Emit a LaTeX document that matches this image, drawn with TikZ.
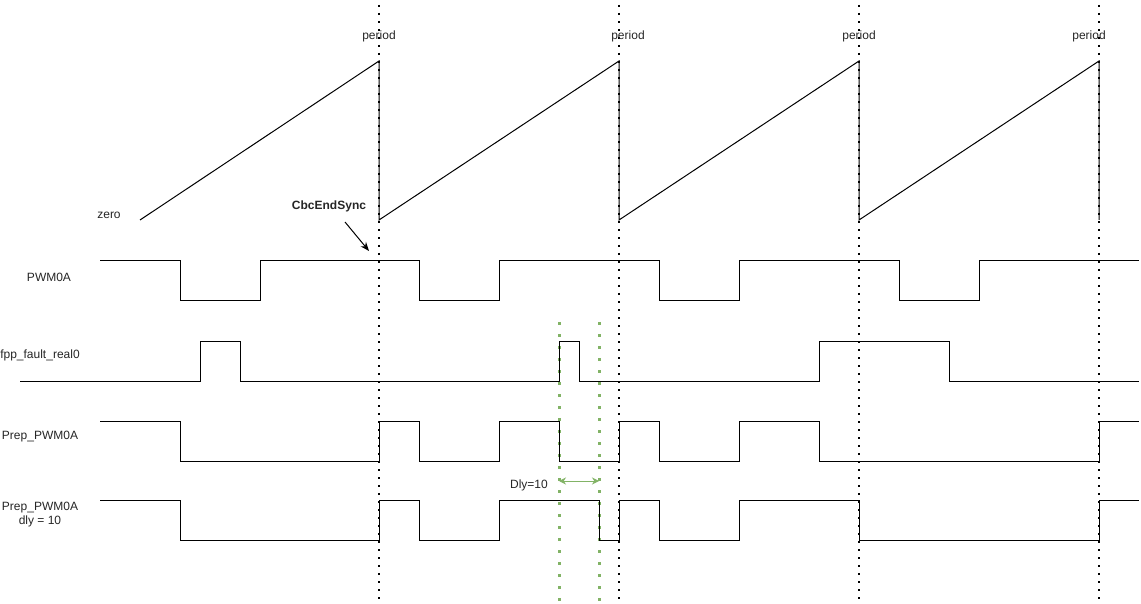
\documentclass[tikz,border=0pt]{standalone}
\usepackage{fontspec}
\setmainfont{Liberation Sans}
\usetikzlibrary{arrows.meta}
\definecolor{dlygreen}{HTML}{82B366}
\begin{document}
\begin{tikzpicture}[x=1pt,y=-1pt,
  wave/.style={draw=black, line width=1pt, line join=miter},
  blackdots/.style={draw=black, line width=2pt, dash pattern=on 2pt off 6pt},
  greendots/.style={draw=dlygreen, line width=3pt, dash pattern=on 3pt off 9pt},
  lbl/.style={font=\fontsize{12pt}{14pt}\selectfont, inner sep=0pt, align=center, text=black!85},
  boldlbl/.style={lbl, font=\fontsize{12pt}{14pt}\selectfont\bfseries}]
\useasboundingbox (0,0) rectangle (1141,604);
\fill[white] (0,0) rectangle (1141,604);

% period markers (dotted verticals)
\foreach \x in {379,619,859,1099}{
  \draw[blackdots] (\x,5) -- (\x,604);
}
% delay markers
\draw[greendots] (559,322) -- (559,604);
\draw[greendots] (599,322) -- (599,604);

% counter sawtooth
\draw[wave] (140,220) -- (379,61) -- (379,220) -- (619,61) -- (619,220)
  -- (859,61) -- (859,220) -- (1099,61) -- (1099,220);

% PWM0A
\draw[wave] (100,261) -| (180,300) -| (260,261) -| (419,300) -| (499,261)
  -| (659,300) -| (739,261) -| (899,300) -| (979,261) -- (1139,261);

% fpp_fault_real0
\draw[wave] (20,381) -| (200,341) -| (240,381) -| (559,341) -| (579,381)
  -| (819,341) -| (949,381) -- (1139,381);

% Prep_PWM0A
\draw[wave] (100,421) -| (180,461) -| (379,421) -| (419,461) -| (499,421)
  -| (559,461) -| (619,421) -| (659,461) -| (739,421) -| (819,461)
  -| (1099,421) -- (1139,421);

% Prep_PWM0A dly = 10
\draw[wave] (100,500) -| (180,540) -| (379,500) -| (419,540) -| (499,500)
  -| (599,540) -| (619,500) -| (659,540) -| (739,500) -| (859,540)
  -| (1099,500) -- (1139,500);

% texts
\node[lbl] (p1) at (379,36) {period};
\node[lbl] (p2) at (628,36) {period};
\node[lbl] (p3) at (859,36) {period};
\node[lbl] (p4) at (1089,36) {period};
\node[lbl] (zero) at (109,215) {zero};
\node[boldlbl] (cbc) at (329,206) {CbcEndSync};
\node[lbl] (lpwm) at (49,277) {PWM0A};
\node[lbl] (lfpp) at (40,355) {fpp\_fault\_real0};
\node[lbl] (lprep) at (40,437) {Prep\_PWM0A};
\node[lbl] (lprepd) at (40,515) {Prep\_PWM0A\\dly = 10};
\node[lbl] (ldly) at (529,485) {Dly=10};

% CbcEndSync arrow
\coordinate (cbcS) at (345,222);
\coordinate (cbcE) at (369,251);
\draw[line width=1pt, -{Stealth[length=9pt,width=7pt]}] (cbcS) -- (cbcE);

% delay arrow
\coordinate (dA) at (559,481);
\coordinate (dB) at (599,481);
\draw[draw=dlygreen, line width=1pt, {Stealth[length=7pt,width=7pt]}-{Stealth[length=7pt,width=7pt]}] (dA) -- (dB);
\end{tikzpicture}
\end{document}
